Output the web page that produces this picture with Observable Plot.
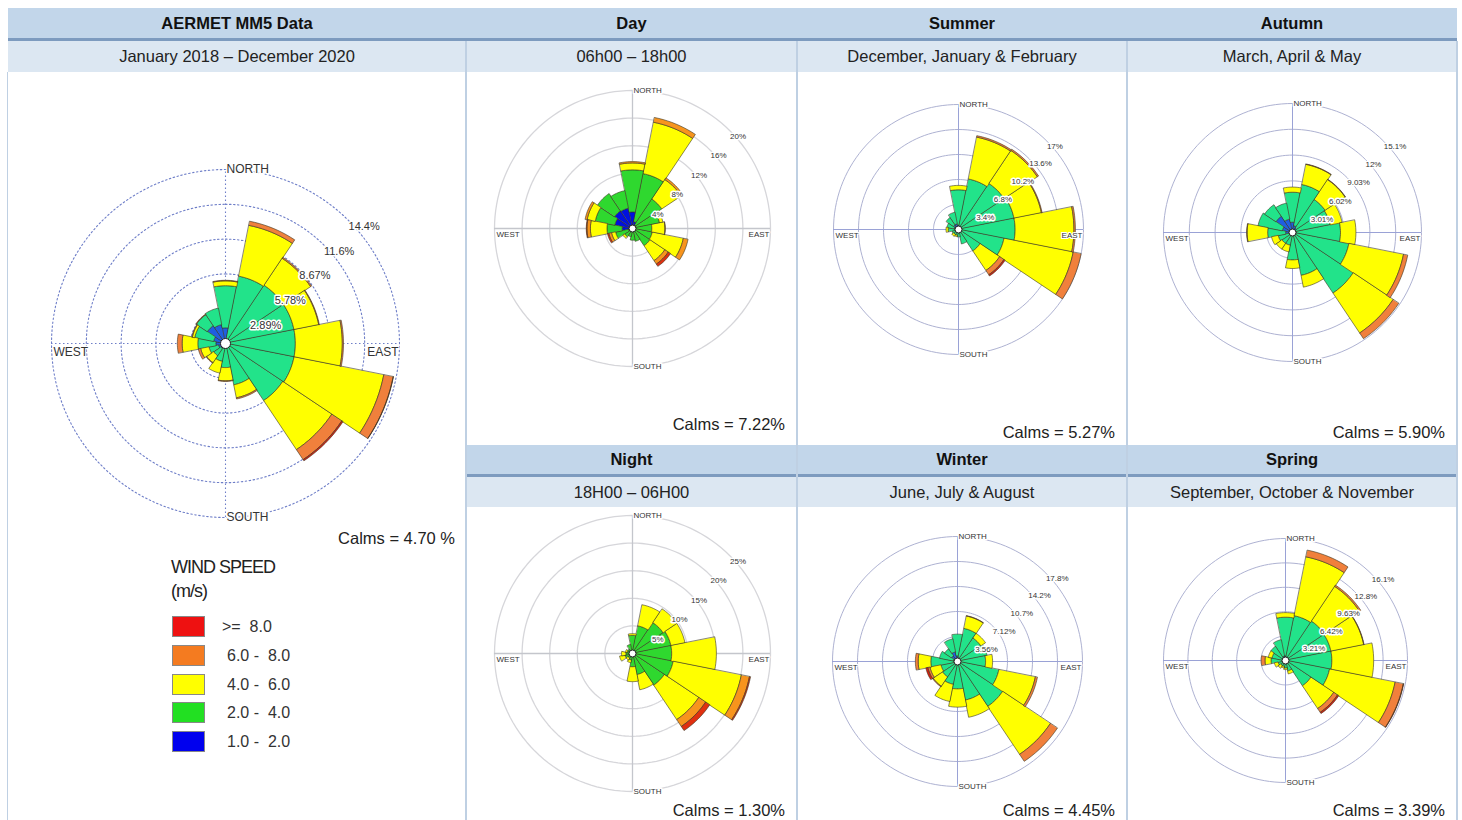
<!DOCTYPE html>
<html><head><meta charset="utf-8">
<script src="https://cdn.jsdelivr.net/npm/d3@7"></script>
<script src="https://cdn.jsdelivr.net/npm/@observablehq/plot@0.6"></script>
<style>
body{margin:0;background:#fff;font-family:"Liberation Sans",Arial,sans-serif;}
#page{position:relative;width:1462px;height:820px;overflow:hidden;background:#fff;}
.blk{position:absolute;box-sizing:border-box;}
.h1{background:#c2d6ea;font-weight:bold;font-size:16.5px;color:#111;text-align:center;border-bottom:3px solid #7d9bbf;}
.h2{background:#dce7f2;font-size:16.5px;color:#222;text-align:center;}
.vl{position:absolute;width:2px;background:#bfd0e3;}
.rose{position:absolute;}
.calm{position:absolute;font-size:16.5px;color:#222;text-align:right;white-space:nowrap;}
.leg{position:absolute;font-size:16px;color:#333;white-space:pre;}
.sw{position:absolute;width:33px;height:21px;box-sizing:border-box;border:1px solid #888;}
svg text{paint-order:stroke fill;}
</style></head>
<body><div id="page"></div>
<script>
// ---------- DATA ----------
const directions = ["N","NNE","NE","ENE","E","ESE","SE","SSE","S","SSW","SW","WSW","W","WNW","NW","NNW"];
const speedClasses = ["1.0 -  2.0","2.0 -  4.0","4.0 -  6.0","6.0 -  8.0",">=  8.0"];
const legendColors = ["#0000ee","#22e022","#ffff00","#f47b20","#ee1111"];

// frequencies (%) per speed class (rows: 1-2, 2-4, 4-6, 6-8, >=8) per direction
const freqAll = [
  [1.3,0.3,0.2,0.2,0.2,0.2,0.2,0.2,0.3,0.4,0.5,0.6,0.8,1.0,1.8,1.6],
  [3.5,5.4,5.6,5.6,5.6,5.6,5.5,3.3,1.7,1.1,0.7,0.8,1.5,1.6,1.1,1.4],
  [0.4,4.3,2.7,2.1,3.9,7.6,4.9,1.1,1.1,1.0,0.7,0.7,1.3,0.2,0.0,0.0],
  [0.05,0.35,0.1,0.05,0.1,0.8,1.0,0.1,0.05,0,0.05,0.2,0.4,0.05,0.05,0],
  [0,0,0,0,0,0.02,0.12,0,0,0,0,0,0,0,0,0]
];
const freqDay = [
  [2.4,1.0,0.6,0.4,0.3,0.3,0.3,0.3,0.3,0.3,0.4,0.6,1.5,2.6,3.1,3.0],
  [6.1,7.1,4.5,3.6,2.5,2.6,2.7,1.6,1.4,0.9,1.0,1.9,2.2,2.9,3.0,2.6],
  [1.0,7.6,3.4,0.5,1.9,4.6,2.6,0,0,0,0.3,0.6,2.4,1.2,0,0],
  [0.2,0.7,0.3,0,0.05,0.7,0.6,0,0,0,0,0.4,0.5,0.3,0,0],
  [0,0,0,0,0,0,0.4,0,0,0,0,0.2,0.1,0,0,0]
];
const freqSummer = [
  [0.6,0.4,0.3,0.3,0.3,0.3,0.2,0.2,0.2,0.2,0.3,0.3,0.5,0.6,0.8,0.8],
  [4.8,6.6,7.2,7.4,7.4,6.0,3.3,1.8,0.8,0.6,0.5,0.6,0.9,1.0,1.2,1.6],
  [0.6,5.8,5.4,3.8,8.0,9.6,3.2,0,0,0.2,0.3,0,0.3,0,0,0],
  [0,0.2,0.2,0.1,0.2,1.1,0.7,0,0,0,0,0,0,0,0,0],
  [0,0,0,0,0,0,0.2,0,0,0,0,0,0,0,0,0]
];
const freqAutumn = [
  [1.2,0.8,0.6,0.4,0.4,0.4,0.4,0.3,0.3,0.3,0.3,0.4,0.8,1.2,2.3,1.6],
  [3.5,4.9,4.0,4.1,5.2,6.3,8.1,4.8,2.9,1.2,1.2,1.3,2.1,2.9,1.6,1.9],
  [0.6,2.4,2.8,1.4,1.8,6.5,5.6,1.4,1.0,0.8,0.8,0.8,2.4,0,0,0],
  [0,0.05,0.05,0,0,0.5,0.8,0,0,0,0,0,0.05,0,0,0],
  [0,0,0,0,0,0,0,0,0,0,0,0,0,0,0,0]
];
const freqNight = [
  [0.3,0.3,0.3,0.3,0.3,0.3,0.3,0.3,0.3,0.2,0.2,0.2,0.2,0.2,0.2,0.3],
  [3.0,4.8,6.4,6.8,6.8,7.2,6.6,3.6,2.1,1.0,0.8,1.2,1.0,0.8,0.8,1.4],
  [0.3,3.9,3.0,2.6,8.1,12.6,7.5,2.8,2.7,0.5,0.4,1.0,0.8,0.3,0,0],
  [0,0,0,0,0,1.5,1.5,0,0,0,0,0,0,0,0,0],
  [0,0,0,0,0,0.2,0.9,0,0,0,0,0,0,0,0,0]
];
const freqWinter = [
  [0.8,0.5,0.4,0.3,0.3,0.3,0.3,0.3,0.3,0.3,0.3,0.3,0.5,0.6,1.0,1.4],
  [3.1,4.3,3.6,4.0,3.7,5.7,7.4,5.3,3.6,3.0,2.3,2.1,3.3,2.0,1.2,1.9],
  [0,1.8,0.8,0,1.0,5.3,8.2,2.5,2.6,2.5,1.6,1.6,1.8,0,0,0],
  [0,0.05,0,0,0,0.3,1.2,0,0,0,0.1,0.3,0.4,0,0,0],
  [0,0,0,0,0,0,0,0,0,0,0,0.3,0,0,0,0]
];
const freqSpring = [
  [0.6,0.4,0.3,0.3,0.3,0.3,0.3,0.2,0.2,0.2,0.2,0.2,0.3,0.4,0.5,0.6],
  [5.1,5.6,5.9,5.8,5.8,5.6,3.7,1.2,0.8,0.6,0.6,0.8,1.6,1.4,1.8,2.2],
  [0.6,7.9,5.5,4.4,5.5,8.8,3.6,0.4,0.2,0.2,0.4,0.5,0.8,0.5,0,0],
  [0,0.9,0.2,0.05,0,1.1,0.6,0,0,0,0,0,0.5,0,0,0],
  [0,0,0,0,0,0.05,0.2,0,0,0,0,0,0,0,0,0]
];

// ring values and labels
const ringsAll = [2.89,5.78,8.67,11.56,14.45];
const ringLabelsAll = ["2.89%","5.78%","8.67%","11.6%","14.4%"];
const ringsDay = [4,8,12,16,20];
const ringLabelsDay = ["4%","8%","12%","16%","20%"];
const ringsSummer = [3.4,6.8,10.2,13.6,17];
const ringLabelsSummer = ["3.4%","6.8%","10.2%","13.6%","17%"];
const ringsAutumn = [3.01,6.02,9.03,12.04,15.05];
const ringLabelsAutumn = ["3.01%","6.02%","9.03%","12%","15.1%"];
const ringsNight = [5,10,15,20,25];
const ringLabelsNight = ["5%","10%","15%","20%","25%"];
const ringsWinter = [3.56,7.12,10.68,14.24,17.8];
const ringLabelsWinter = ["3.56%","7.12%","10.7%","14.2%","17.8%"];
const ringsSpring = [3.21,6.42,9.63,12.84,16.05];
const ringLabelsSpring = ["3.21%","6.42%","9.63%","12.8%","16.1%"];

const calmsAll = "Calms = 4.70 %";
const calmsDay = "Calms = 7.22%", calmsSummer = "Calms = 5.27%", calmsAutumn = "Calms = 5.90%";
const calmsNight = "Calms = 1.30%", calmsWinter = "Calms = 4.45%", calmsSpring = "Calms = 3.39%";

const titlesTop = ["AERMET MM5 Data","Day","Summer","Autumn"];
const subTop = ["January 2018 \u2013 December 2020","06h00 \u2013 18h00","December, January & February","March, April & May"];
const titlesBottom = ["Night","Winter","Spring"];
const subBottom = ["18H00 \u2013 06H00","June, July & August","September, October & November"];

// ---------- STYLES ----------
const palSoft = ["#1f5fe0","#22e38a","#ffff00","#f0803c","#d42010"];
const palVivid = ["#0010e0","#2fd82f","#ffff00","#f7941d","#e03010"];

const page = document.getElementById("page");
function div(cls, style, text){const d=document.createElement("div");d.className=cls;Object.assign(d.style,style);if(text!=null)d.textContent=text;page.appendChild(d);return d;}

// headers
const colX = [8,466,797,1127,1457];
for(let i=0;i<4;i++){
  const x0=colX[i], w=colX[i+1]-colX[i];
  div("blk h1",{left:x0+"px",top:"8px",width:w+"px",height:"33px",lineHeight:"30px"},titlesTop[i]);
  div("blk h2",{left:x0+"px",top:"41px",width:w+"px",height:"31px",lineHeight:"31px"},subTop[i]);
}
for(let i=0;i<3;i++){
  const x0=colX[i+1], w=colX[i+2]-colX[i+1];
  div("blk h1",{left:x0+"px",top:"445px",width:w+"px",height:"32px",lineHeight:"29px"},titlesBottom[i]);
  div("blk h2",{left:x0+"px",top:"477px",width:w+"px",height:"30px",lineHeight:"30px"},subBottom[i]);
}
// vertical separators
div("vl",{left:"7px",top:"72px",height:"748px",width:"1px"});
div("vl",{left:"465px",top:"41px",height:"779px"});
div("vl",{left:"796px",top:"41px",height:"779px"});
div("vl",{left:"1126px",top:"41px",height:"779px"});
div("vl",{left:"1456px",top:"41px",height:"779px"});

// ---------- ROSE ----------
function rose(freq, rings, ringLabels, cfg){
  const outer = rings[rings.length-1];
  const S = cfg.size;
  const half = outer*(S/2)/cfg.Rpx;
  const toXY = (r,a)=>[r*Math.sin(a), r*Math.cos(a)];
  const hw = 11.25*Math.PI/180, n=10;
  const marks = [];
  // rings
  const ringPts = [];
  rings.forEach((rv,ri)=>{ for(let k=0;k<144;k++){const a=2*Math.PI*k/144; const [x,y]=toXY(rv,a); ringPts.push({ring:ri,x,y});} });
  marks.push(Plot.line(ringPts,{x:"x",y:"y",z:"ring",curve:"linear-closed",stroke:cfg.ringColor,strokeWidth:cfg.ringWidth,strokeDasharray:cfg.dash}));
  marks.push(Plot.ruleX([0],{y1:-outer,y2:outer,stroke:cfg.axisColor,strokeWidth:cfg.ringWidth,strokeDasharray:cfg.dash}));
  marks.push(Plot.ruleY([0],{x1:-outer,x2:outer,stroke:cfg.axisColor,strokeWidth:cfg.ringWidth,strokeDasharray:cfg.dash}));
  // bars
  const cum = directions.map(()=>0);
  freq.forEach((row,c)=>{
    const verts=[];
    row.forEach((v,i)=>{
      if(!(v>0)) return;
      const r0=cum[i], r1=cum[i]+v; cum[i]=r1;
      const th=i*22.5*Math.PI/180;
      for(let k=0;k<=n;k++){const a=th-hw+2*hw*k/n;const [x,y]=toXY(r1,a);verts.push({seg:i,x,y});}
      for(let k=n;k>=0;k--){const a=th-hw+2*hw*k/n;const [x,y]=toXY(r0,a);verts.push({seg:i,x,y});}
    });
    marks.push(Plot.line(verts,{x:"x",y:"y",z:"seg",curve:"linear-closed",fill:cfg.pal[c],stroke:"#3a3520",strokeWidth:0.7,strokeOpacity:0.85}));
  });
  // calm circle
  marks.push(Plot.dot([0],{x:()=>0,y:()=>0,r:cfg.calmR,fill:"white",stroke:"#222",strokeWidth:1}));
  // ring labels
  const lab = rings.map((rv,i)=>({x:rv*Math.SQRT1_2,y:rv*Math.SQRT1_2,t:ringLabels[i]}));
  marks.push(Plot.text(lab,{x:"x",y:"y",text:"t",textAnchor:"start",lineAnchor:"top",dy:cfg.labDy,fontSize:cfg.labFont,fill:"#333",stroke:"white",strokeWidth:3}));
  // direction labels
  marks.push(Plot.text([{t:"NORTH",x:0,y:outer},{t:"SOUTH",x:0,y:-outer}],{x:"x",y:"y",text:"t",textAnchor:"start",dx:1,fontSize:cfg.dirFont,fill:"#333",stroke:"white",strokeWidth:3}));
  marks.push(Plot.text([{t:"WEST",x:-outer,y:0}],{x:"x",y:"y",text:"t",textAnchor:"start",dx:2,dy:cfg.dirFont*0.75,fontSize:cfg.dirFont,fill:"#333",stroke:"white",strokeWidth:2}));
  marks.push(Plot.text([{t:"EAST",x:outer,y:0}],{x:"x",y:"y",text:"t",textAnchor:"end",dx:-1,dy:cfg.dirFont*0.75,fontSize:cfg.dirFont,fill:"#333",stroke:"white",strokeWidth:2}));
  const svg = Plot.plot({width:S,height:S,margin:0,x:{domain:[-half,half],axis:null},y:{domain:[-half,half],axis:null},
    style:{background:"transparent",fontFamily:"Liberation Sans, Arial, sans-serif",overflow:"visible"},marks});
  const holder = div("rose",{left:(cfg.cx-S/2)+"px",top:(cfg.cy-S/2)+"px",width:S+"px",height:S+"px"});
  holder.appendChild(svg);
}

const mainCfg = {size:400,Rpx:174,cx:225,cy:343,pal:palSoft,ringColor:"#6e7ec8",axisColor:"#6e7ec8",ringWidth:1.1,dash:"1.5,2.5",calmR:5,labFont:11,labDy:2,dirFont:12};
const seasonCfg = (cx,cy,R)=>({size:2*R+30,Rpx:R,cx,cy,pal:palSoft,ringColor:"#aeb2d2",axisColor:"#9aa2d6",ringWidth:1,dash:null,calmR:3.5,labFont:8,labDy:2,dirFont:8});
const dnCfg = (cx,cy,R)=>({size:2*R+30,Rpx:R,cx,cy,pal:palVivid,ringColor:"#d6d6da",axisColor:"#c4c6cc",ringWidth:1.3,dash:null,calmR:3.5,labFont:8,labDy:2,dirFont:8});

rose(freqAll, ringsAll, ringLabelsAll, mainCfg);
rose(freqDay, ringsDay, ringLabelsDay, dnCfg(632,228,138));
rose(freqSummer, ringsSummer, ringLabelsSummer, seasonCfg(958,229,125));
rose(freqAutumn, ringsAutumn, ringLabelsAutumn, seasonCfg(1292,232,129));
rose(freqNight, ringsNight, ringLabelsNight, dnCfg(632,653,138));
rose(freqWinter, ringsWinter, ringLabelsWinter, seasonCfg(957,661,125));
rose(freqSpring, ringsSpring, ringLabelsSpring, seasonCfg(1285,660,122));

// calms
function calm(text,right,cy){div("calm",{right:(1462-right)+"px",top:(cy-10)+"px"},text);}
calm(calmsAll,455,539);
calm(calmsDay,785,425); calm(calmsSummer,1115,433); calm(calmsAutumn,1445,433);
calm(calmsNight,785,811); calm(calmsWinter,1115,811); calm(calmsSpring,1445,811);

// legend
div("leg",{left:"171px",top:"555px",fontSize:"18px",letterSpacing:"-1px",lineHeight:"24px",color:"#222"},"WIND SPEED\n(m/s)");
const legTops=[616,645,674,702,731];
for(let k=0;k<5;k++){
  const c=4-k;
  div("sw",{left:"172px",top:legTops[k]+"px",background:legendColors[c]});
  div("leg",{left:(c===4?222:227)+"px",top:(legTops[k]+1)+"px",lineHeight:"20px"},speedClasses[c]);
}
</script></body></html>
